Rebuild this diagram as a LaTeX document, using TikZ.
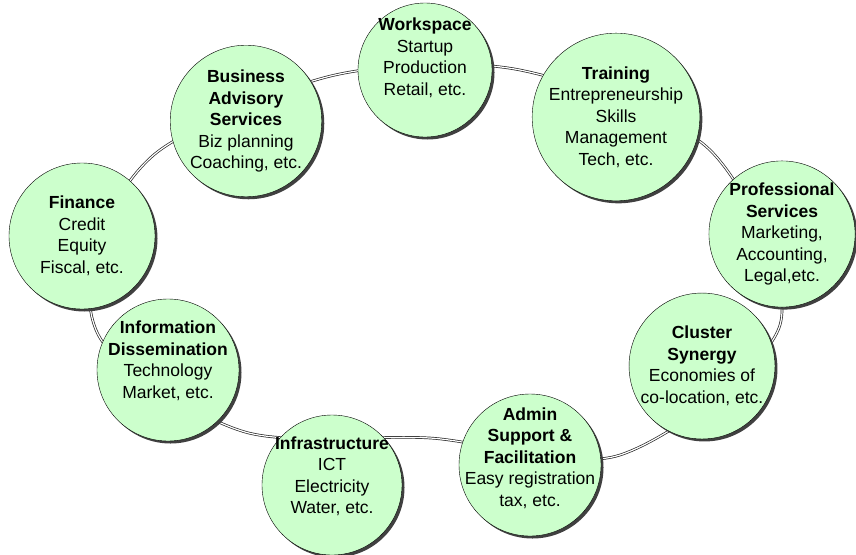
\documentclass[tikz,border=0pt]{standalone}
\usepackage{fontspec}
\setmainfont{Liberation Sans}
\usetikzlibrary{shadows}
\definecolor{mint}{RGB}{204,255,204}
% text block set higher than the circle centre (#1 = lift minus math axis)
\newcommand\lifted[2]{\raisebox{#1}[0pt][0pt]{\begin{tabular}{@{}c@{}}#2\end{tabular}}}

\begin{document}
\begin{tikzpicture}[x=1pt, y=-1pt,
    service/.style={circle, draw, thin, fill=mint, inner sep=0pt, align=center,
        minimum size=140pt, font=\fontsize{17.5}{21.5}\selectfont,
        drop shadow={shadow xshift=2.5pt, shadow yshift=-2.5pt, fill=black!75, opacity=1}},
    ring/.style={draw=black!85, double=white, double distance=1.2pt, line width=0.7pt}
]
\useasboundingbox (0,0) rectangle (856,554);

% Ring behind the circles
\coordinate (r1) at (160,150);
\coordinate (r2) at (95,250);
\coordinate (r3) at (105,345);
\coordinate (r4) at (245,432);
\coordinate (r5) at (430,438);
\coordinate (r6) at (620,455);
\coordinate (r7) at (780,325);
\coordinate (r8) at (710,150);
\coordinate (r9) at (520,70);
\coordinate (r10) at (335,75);
\draw[ring] plot[smooth cycle] coordinates {(r1) (r2) (r3) (r4) (r5) (r6) (r7) (r8) (r9) (r10)};

% Services
\node[service, minimum size=134pt] (workspace) at (425,70) {\lifted{7pt}{\textbf{Workspace}\\Startup\\Production\\Retail, etc.}};
\node[service, minimum size=140pt] (training) at (616,117) {\textbf{Training}\\Entrepreneurship\\Skills\\Management\\Tech, etc.};
\node[service, minimum size=146pt] (professional) at (782,234) {\textbf{Professional}\\\textbf{Services}\\Marketing,\\Accounting,\\Legal,etc.};
\node[service, minimum size=144pt] (cluster) at (702,366) {\textbf{Cluster}\\\textbf{Synergy}\\Economies of\\co-location, etc.};
\node[service, minimum size=142pt] (admin) at (530,465) {\lifted{1.5pt}{\textbf{Admin}\\\textbf{Support \&}\\\textbf{Facilitation}\\Easy registration\\tax, etc.}};
\node[service, minimum size=140pt] (infrastructure) at (332,485) {\lifted{3.5pt}{\textbf{Infrastructure}\\ICT\\Electricity\\Water, etc.}};
\node[service, minimum size=142pt] (information) at (168,370) {\lifted{4pt}{\textbf{Information}\\\textbf{Dissemination}\\Technology\\Market, etc.}};
\node[service, minimum size=146pt] (finance) at (82,236) {\textbf{Finance}\\Credit\\Equity\\Fiscal, etc.};
\node[service, minimum size=136pt] (business) at (246,121) {\textbf{Business}\\\textbf{Advisory}\\\textbf{Services}\\Biz planning\\Coaching, etc.};
\end{tikzpicture}
\end{document}
